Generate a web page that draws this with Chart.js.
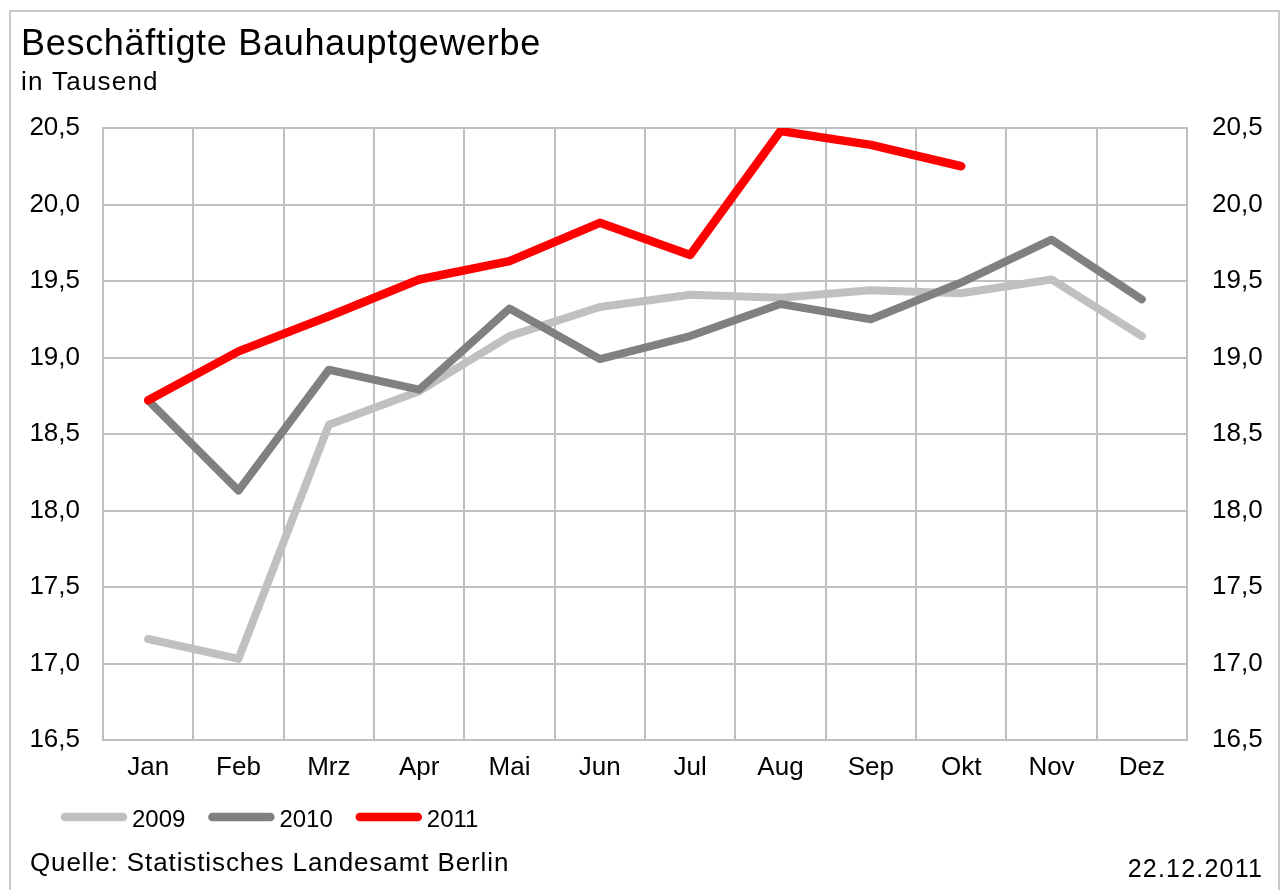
<!DOCTYPE html>
<html>
<head>
<meta charset="utf-8">
<script src="https://cdn.jsdelivr.net/npm/chart.js@4/dist/chart.umd.min.js"></script>
<style>
  html, body { margin: 0; padding: 0; background: #fff; }
  canvas { display: block; }
</style>
</head>
<body>
<canvas id="myChart" width="1281" height="890"></canvas>
<script>
// values, thousand employees
const months = ['Jan','Feb','Mrz','Apr','Mai','Jun','Jul','Aug','Sep','Okt','Nov','Dez'];
const years = ['2009','2010','2011'];
const v2009 = [17.16, 17.03, 18.56, 18.78, 19.14, 19.33, 19.41, 19.39, 19.44, 19.42, 19.51, 19.14];
const v2010 = [18.72, 18.13, 18.92, 18.79, 19.32, 18.99, 19.14, 19.35, 19.25, 19.49, 19.77, 19.38];
const v2011 = [18.72, 19.04, 19.27, 19.51, 19.63, 19.88, 19.67, 20.48, 20.39, 20.25, null, null];
const yMin = 16.5;
const yMax = 20.5;
const yStep = 0.5;

const titleText = 'Beschäftigte Bauhauptgewerbe';
const subText = 'in Tausend';
const sourceText = 'Quelle: Statistisches Landesamt Berlin';
const dateText = '22.12.2011';

const FONT = '"Liberation Sans", Arial, sans-serif';
const gridCol = '#c0c0c0';

function fmt(v){
  return v.toFixed(1).replace('.', ',');
}

// text with a bit of extra tracking, the original lettering runs wide
function wideText(ctx, txt, x, y, sp){
  if ('letterSpacing' in ctx) {
    ctx.letterSpacing = sp + 'px';
    ctx.fillText(txt, x, y);
    ctx.letterSpacing = '0px';
  } else {
    ctx.fillText(txt, x, y);
  }
}

// frame, titles, legend and footer
const decor = {
  id: 'decor',
  beforeDraw(chart){
    const ctx = chart.ctx;
    ctx.save();
    ctx.fillStyle = '#fff';
    ctx.fillRect(0, 0, chart.width, chart.height);
    ctx.strokeStyle = '#c8c8c8';
    ctx.lineWidth = 2;
    ctx.strokeRect(10, 11, 1269, 880);
    ctx.restore();
  },
  afterDraw(chart){
    const ctx = chart.ctx;
    ctx.save();
    ctx.fillStyle = '#000';
    ctx.textBaseline = 'alphabetic';
    ctx.textAlign = 'left';
    ctx.font = '36px ' + FONT;
    wideText(ctx, titleText, 21, 55, 0.7);
    ctx.font = '26px ' + FONT;
    wideText(ctx, subText, 21, 90, 1.2);
    wideText(ctx, sourceText, 30, 871, 0.9);
    ctx.textAlign = 'right';
    ctx.font = '25px ' + FONT;
    wideText(ctx, dateText, 1263, 877, 1.2);

    // legend
    let x = 65;
    const ly = 817;
    ctx.font = '24px ' + FONT;
    ctx.textAlign = 'left';
    ctx.textBaseline = 'middle';
    years.forEach(function(y){
      const ds = chart.data.datasets.find(d => d.label === y);
      ctx.strokeStyle = ds.borderColor;
      ctx.lineWidth = 8.5;
      ctx.lineCap = 'round';
      ctx.beginPath();
      ctx.moveTo(x, ly);
      ctx.lineTo(x + 58, ly);
      ctx.stroke();
      ctx.fillStyle = '#000';
      ctx.fillText(y, x + 67, ly + 3);
      x = x + 67 + ctx.measureText(y).width + 27;
    });
    ctx.restore();
  }
};

const data = {
  labels: months,
  datasets: [
    { label: '2009', data: v2009, borderColor: '#c0c0c0', backgroundColor: '#c0c0c0', order: 3 },
    { label: '2010', data: v2010, borderColor: '#808080', backgroundColor: '#808080', order: 2 },
    { label: '2011', data: v2011, borderColor: '#ff0000', backgroundColor: '#ff0000', order: 1, borderWidth: 8.5 }
  ]
};

const tickFont = { family: FONT, size: 26 };

const config = {
  type: 'line',
  data,
  options: {
    responsive: false,
    animation: false,
    devicePixelRatio: 1,
    layout: { padding: { left: 10, right: 0, top: 128, bottom: 100 } },
    elements: {
      line: { borderWidth: 8, tension: 0, borderCapStyle: 'round', borderJoinStyle: 'round' },
      point: { radius: 0, hoverRadius: 0 }
    },
    plugins: {
      legend: { display: false },
      tooltip: { enabled: false },
      title: { display: false }
    },
    scales: {
      x: {
        offset: true,
        grid: { offset: true, color: gridCol, lineWidth: 2, drawTicks: false },
        border: { color: gridCol, width: 2 },
        ticks: { font: tickFont, color: '#000', padding: 12, maxRotation: 0, autoSkip: false },
        afterFit(s){ s.height = 50; }
      },
      y: {
        position: 'left',
        min: yMin,
        max: yMax,
        grid: { color: gridCol, lineWidth: 2, drawTicks: false },
        border: { color: gridCol, width: 2 },
        ticks: { stepSize: yStep, font: tickFont, color: '#000', padding: 23, callback: v => fmt(v) },
        afterFit(s){ s.width = 93; }
      },
      y1: {
        position: 'right',
        min: yMin,
        max: yMax,
        grid: { drawOnChartArea: false, drawTicks: false },
        border: { color: gridCol, width: 2 },
        ticks: { stepSize: yStep, font: tickFont, color: '#000', padding: 25, callback: v => fmt(v) },
        afterFit(s){ s.width = 94; }
      }
    }
  },
  plugins: [decor]
};

var myChart = new Chart(document.getElementById('myChart'), config);
</script>
</body>
</html>
